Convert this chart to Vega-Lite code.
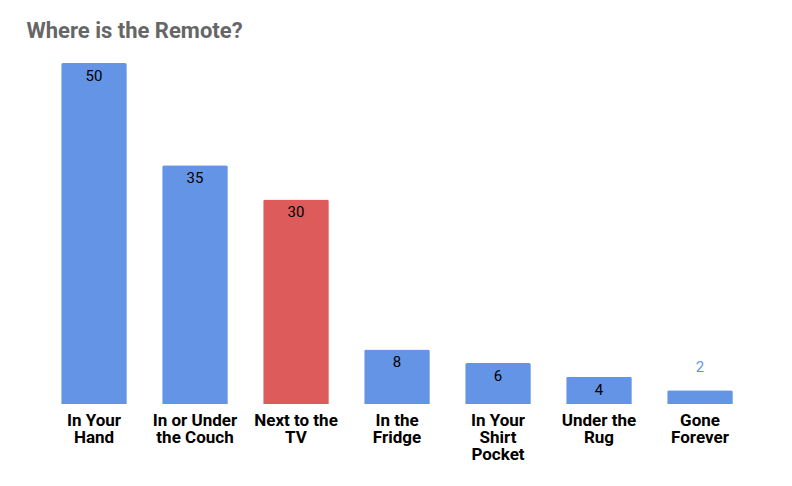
{
  "$schema": "https://vega.github.io/schema/vega-lite/v6.json",
  "width": 707,
  "height": 341,
  "autosize": {"type": "none"},
  "padding": {"left": 43.5, "top": 63, "right": 41.5, "bottom": 82},
  "background": "white",
  "title": {
    "text": "Where is the Remote?",
    "anchor": "start",
    "frame": "group",
    "dx": -17,
    "offset": 20,
    "font": "Roboto",
    "fontSize": 22,
    "fontWeight": "bold",
    "color": "#666666"
  },
  "data": {
    "values": [
      {"place": "In Your|Hand", "count": 50, "highlight": false},
      {"place": "In or Under|the Couch", "count": 35, "highlight": false},
      {"place": "Next to the|TV", "count": 30, "highlight": true},
      {"place": "In the|Fridge", "count": 8, "highlight": false},
      {"place": "In Your|Shirt|Pocket", "count": 6, "highlight": false},
      {"place": "Under the|Rug", "count": 4, "highlight": false},
      {"place": "Gone|Forever", "count": 2, "highlight": false}
    ]
  },
  "config": {"view": {"stroke": null}},
  "encoding": {
    "x": {
      "field": "place",
      "type": "nominal",
      "sort": null,
      "scale": {"paddingInner": 0.35, "paddingOuter": 0.175},
      "axis": {
        "title": null,
        "labelAngle": 0,
        "domain": false,
        "ticks": false,
        "labelExpr": "split(datum.value, '|')",
        "labelFont": "Roboto",
        "labelFontSize": 17,
        "labelFontWeight": "bold",
        "labelColor": "#000000",
        "labelLineHeight": 17,
        "labelPadding": 8,
        "labelBaseline": "top"
      }
    },
    "y": {
      "field": "count",
      "type": "quantitative",
      "scale": {"domain": [0, 50], "nice": false},
      "axis": null
    }
  },
  "layer": [
    {
      "mark": {"type": "bar", "cornerRadiusTopLeft": 2, "cornerRadiusTopRight": 2},
      "encoding": {
        "color": {
          "field": "highlight",
          "type": "nominal",
          "scale": {"domain": [false, true], "range": ["#6394E6", "#DD5C5B"]},
          "legend": null
        }
      }
    },
    {
      "transform": [{"filter": "datum.count >= 3"}],
      "mark": {"type": "text", "baseline": "middle", "dy": 13, "font": "Roboto", "fontSize": 15, "color": "#000000"},
      "encoding": {"text": {"field": "count", "type": "quantitative"}}
    },
    {
      "transform": [{"filter": "datum.count < 3"}],
      "mark": {"type": "text", "baseline": "middle", "dy": -23, "font": "Roboto", "fontSize": 15, "color": "#6394E6"},
      "encoding": {"text": {"field": "count", "type": "quantitative"}}
    }
  ]
}
